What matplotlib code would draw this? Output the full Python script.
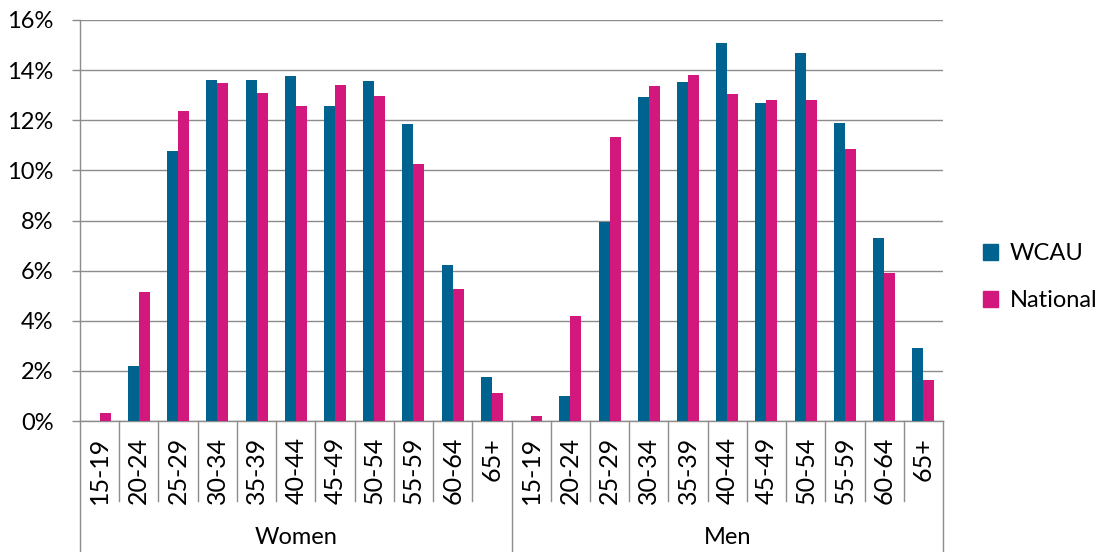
import matplotlib.pyplot as plt
from matplotlib.lines import Line2D
from matplotlib.patches import Patch
import numpy as np

# Data
# ----
ages = ["15-19", "20-24", "25-29", "30-34", "35-39", "40-44",
        "45-49", "50-54", "55-59", "60-64", "65+"]
groups = ["Women", "Men"]

wcau_women = [0.0, 2.19, 10.79, 13.62, 13.60, 13.76, 12.56, 13.58, 11.84, 6.24, 1.74]
national_women = [0.30, 5.16, 12.37, 13.48, 13.09, 12.56, 13.42, 12.96, 10.26, 5.28, 1.10]
wcau_men = [0.0, 1.00, 7.95, 12.92, 13.51, 15.09, 12.68, 14.68, 11.88, 7.31, 2.91]
national_men = [0.19, 4.19, 11.33, 13.37, 13.81, 13.03, 12.81, 12.81, 10.84, 5.89, 1.64]

wcau = wcau_women + wcau_men
national = national_women + national_men
labels = ages + ages

c_wcau = "#00638F"
c_nat = "#D2187C"
grid_c = "#8C8C8C"
fs = 17

plt.rcParams['font.family'] = ['Lato', 'DejaVu Sans']

fig = plt.figure(figsize=(11.05, 5.52), dpi=100)
W, H = 1105, 552
x0, x1, y0, y1 = 80, 943, 421, 20
ax = fig.add_axes([x0 / W, (H - y0) / H, (x1 - x0) / W, (y0 - y1) / H])

x = np.arange(len(labels))
bw = 0.28
ax.bar(x - bw / 2, wcau, bw, color=c_wcau, zorder=3)
ax.bar(x + bw / 2, national, bw, color=c_nat, zorder=3)

ax.set_xlim(-0.5, len(labels) - 0.5)
ax.set_ylim(0, 16)
ax.set_yticks(range(0, 17, 2))
ax.set_yticklabels([f"{v}%" for v in range(0, 17, 2)], fontsize=fs)
ax.yaxis.grid(True, color=grid_c, lw=1.0, zorder=0)
ax.tick_params(axis='y', length=6, width=1.0, color=grid_c, pad=13)
ax.set_xticks([])

for s in ['top', 'right']:
    ax.spines[s].set_visible(False)
for s in ['left', 'bottom']:
    ax.spines[s].set_color(grid_c)
    ax.spines[s].set_linewidth(1.0)

# Two-level category axis
def fy(py):
    return (y0 - py) / (y0 - y1)

tr = ax.get_xaxis_transform()
for i in range(len(labels) + 1):
    xb = i - 0.5
    if i % len(ages) == 0:
        bottom = fy(H)
    else:
        bottom = fy(501)
    ax.add_line(Line2D([xb, xb], [0, bottom], transform=tr, color=grid_c,
                       lw=1.0, clip_on=False))
for i, lab in enumerate(labels):
    ax.text(i, fy(437), lab, transform=tr, rotation=90, ha='center',
            va='top', fontsize=18, color='black')
for g, name in enumerate(groups):
    xc = g * len(ages) + (len(ages) - 1) / 2
    ax.text(xc, fy(537), name, transform=tr, ha='center', va='center',
            fontsize=fs, color='black')

handles = [Patch(color=c_wcau, label="WCAU"), Patch(color=c_nat, label="National")]
ax.legend(handles=handles, loc='center left', bbox_to_anchor=(1.035, fy(277)),
          frameon=False, fontsize=fs, handlelength=0.65, handleheight=0.65,
          handletextpad=0.5, labelspacing=1.1, borderaxespad=0)

plt.savefig("out.png", dpi=100)
